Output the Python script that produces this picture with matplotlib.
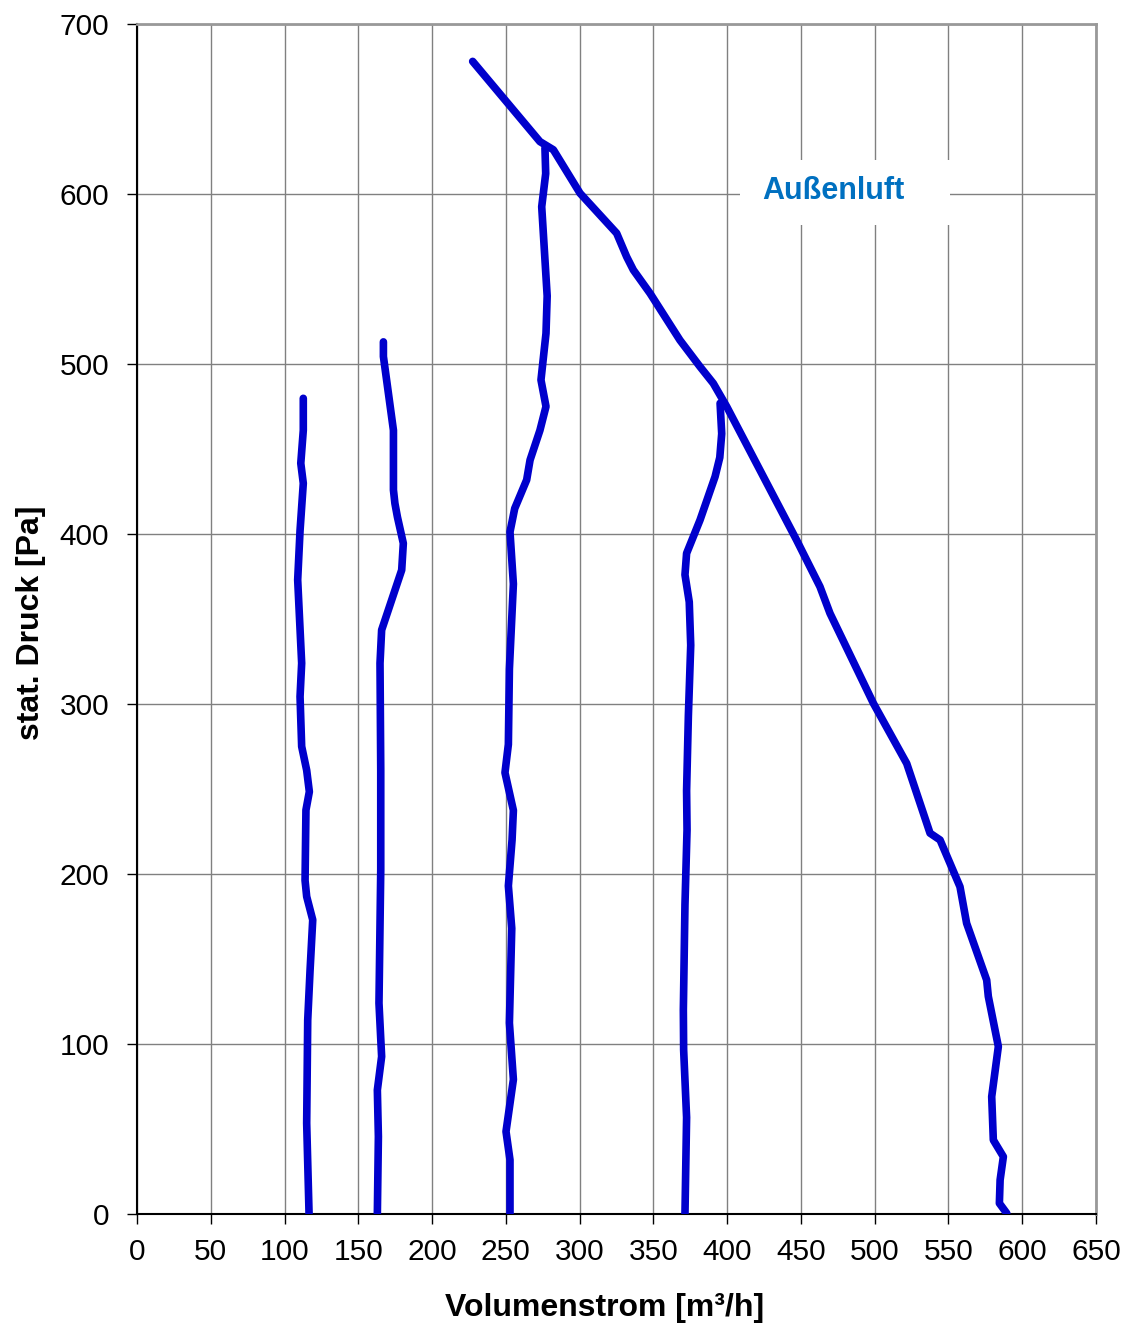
import matplotlib.pyplot as plt
from matplotlib.patches import Rectangle

plt.rcParams['font.family'] = ['Liberation Sans', 'DejaVu Sans']

# Kennlinien (Volumenstrom m³/h, stat. Druck Pa)
aussen_x = [227.5, 273.1, 282.2, 300.3, 325.1, 331.9, 336.4, 347.7, 368.0, 381.6,
            390.6, 399.7, 447.0, 462.9, 469.7, 499.1, 521.7, 537.5, 544.3, 557.8,
            562.3, 575.9, 577.0, 583.8, 579.3, 580.4, 587.2, 585.0, 584.5, 589.5]
aussen_y = [678.0, 630.8, 626.0, 600.4, 576.9, 563.0, 555.3, 541.6, 514.0, 498.4,
            488.6, 474.9, 396.5, 369.0, 353.3, 300.4, 265.0, 224.0, 220.0, 192.5,
            171.0, 137.6, 128.0, 98.5, 69.0, 43.5, 33.7, 20.0, 6.3, 0.4]

k1_x = [112.7, 112.7, 111.0, 112.7, 110.5, 108.9, 111.6, 110.5, 111.6, 115.0,
        116.8, 114.5, 113.9, 115.0, 119.1, 117.3, 115.7, 115.0, 116.6]
k1_y = [479.8, 461.0, 441.6, 429.8, 402.0, 373.0, 324.0, 304.3, 275.0, 261.0,
        248.4, 237.6, 196.2, 186.7, 173.0, 143.5, 114.0, 53.4, 0.4]

k2_x = [167.0, 167.0, 173.8, 173.8, 174.8, 176.5, 180.5, 179.4, 165.8, 164.7,
        165.2, 165.2, 164.0, 165.8, 162.9, 163.6, 162.9]
k2_y = [513.0, 504.4, 461.0, 425.9, 418.0, 410.0, 394.5, 378.8, 343.5, 324.0,
        261.0, 202.4, 124.0, 92.6, 72.9, 45.5, 0.4]

k3_x = [276.5, 277.0, 274.3, 278.0, 277.2, 273.8, 277.2, 273.1, 266.4, 264.1,
        256.0, 252.8, 255.1, 252.4, 251.7, 249.4, 255.1, 254.2, 251.7, 254.0,
        252.4, 255.1, 250.1, 252.8, 252.8]
k3_y = [627.0, 612.0, 592.5, 540.0, 518.0, 490.6, 475.0, 461.0, 443.5, 431.8,
        415.0, 401.2, 370.6, 320.6, 276.2, 259.6, 237.4, 220.0, 193.0, 168.0,
        112.4, 79.1, 48.5, 31.8, 0.0]

k4_x = [395.2, 396.3, 395.0, 391.8, 381.6, 372.5, 371.4, 374.3, 375.3, 373.7,
        372.5, 372.8, 371.4, 370.3, 370.5, 372.5, 371.4]
k4_y = [476.9, 459.0, 445.0, 433.7, 408.2, 388.6, 376.0, 360.0, 334.6, 292.9,
        249.0, 226.0, 182.0, 120.0, 96.5, 56.8, 0.0]

x_ticks = list(range(0, 651, 50))
y_ticks = list(range(0, 701, 100))

fig = plt.figure(figsize=(11.24, 13.25), dpi=100)
ax = fig.add_axes([0.1219, 0.0838, 0.8532, 0.8981])

line_color = '#0000CC'
for xs, ys in [(aussen_x, aussen_y), (k1_x, k1_y), (k2_x, k2_y), (k3_x, k3_y), (k4_x, k4_y)]:
    ax.plot(xs, ys, color=line_color, lw=5.5, solid_capstyle='round',
            solid_joinstyle='round', zorder=3)

# Beschriftung mit weissem Hintergrund ueber dem Gitter
ax.add_patch(Rectangle((408.7, 581.8), 142.3, 38.2, facecolor='white',
                       edgecolor='none', zorder=1))
ax.text(471.7, 602, 'Außenluft', color='#0070C0', fontsize=22, fontweight='bold',
        ha='center', va='center', zorder=2)

ax.set_xlim(0, 650)
ax.set_ylim(0, 700)
ax.set_xticks(x_ticks)
ax.set_yticks(y_ticks)
ax.grid(True, color='#808080', lw=1, zorder=0)
ax.set_axisbelow(True)

ax.tick_params(axis='both', labelsize=21.5, length=7, width=1, direction='out')
ax.tick_params(axis='y', pad=13)
ax.tick_params(axis='x', pad=10)
for s in ['top', 'right']:
    ax.spines[s].set_color('#999999')
    ax.spines[s].set_linewidth(2)
for s in ['bottom', 'left']:
    ax.spines[s].set_color('black')
    ax.spines[s].set_linewidth(1.5)

ax.set_xlabel('Volumenstrom [m³/h]', fontsize=23, fontweight='bold', labelpad=20, x=0.4875)
ax.set_ylabel('stat. Druck [Pa]', fontsize=23, fontweight='bold', labelpad=10, y=0.497)

plt.savefig('out.png', dpi=100)
